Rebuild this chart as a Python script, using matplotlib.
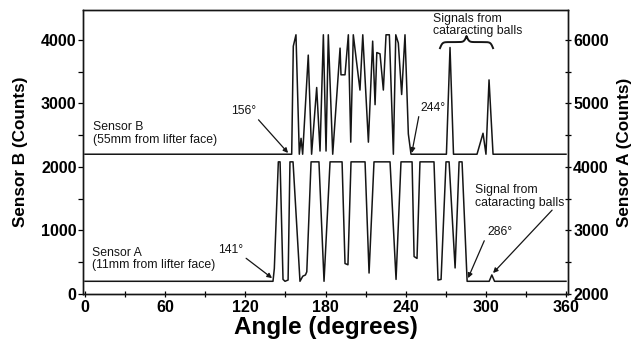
import numpy as np
import matplotlib
matplotlib.use('Agg')
import matplotlib.pyplot as plt
from matplotlib.ticker import MultipleLocator

plt.rcParams['font.family'] = ['Liberation Sans', 'DejaVu Sans']

# Sensor B (55mm from lifter face) - left axis
angle_b = [0, 154.7, 155.9, 157.9, 160.4, 161.7, 162.9, 167.1, 169.6, 173.4,
           175.9, 178.4, 180.4, 182.1, 185.4, 190.9, 191.6, 194.6, 197.1, 198.9,
           200.8, 205.8, 207.9, 212.1, 215.3, 217.1, 218.4, 220.8, 223.3, 225.3,
           227.8, 230.8, 232.6, 234.5, 237.0, 239.5, 242.0, 244.0, 270.5, 273.2,
           275.8, 293.4, 297.9, 300.1, 302.4, 305.4, 360]
sensor_b = [2200, 2200, 3900, 4080, 2200, 2450, 2200, 3760, 2200, 3250,
            2250, 4080, 2250, 4080, 2200, 3870, 3450, 3450, 4080, 2390,
            4080, 3210, 4080, 2390, 3980, 2980, 3800, 3780, 3210, 4080,
            4080, 2200, 4080, 3950, 3140, 4080, 2520, 2200, 2200, 3880,
            2200, 2200, 2530, 2200, 3370, 2200, 2200]

# Sensor A (11mm from lifter face) - right axis
angle_a = [0, 140.7, 141.7, 144.7, 146.0, 148.2, 149.7, 152.0, 153.4, 155.7,
           160.9, 163.0, 165.0, 166.0, 169.2, 175.1, 178.9, 183.4, 192.4, 194.6,
           196.8, 199.1, 209.6, 212.6, 216.3, 228.3, 232.8, 236.5, 244.8, 246.3,
           248.5, 250.7, 261.2, 264.2, 266.5, 270.2, 272.5, 277.0, 280.0, 282.2,
           286.0, 302.5, 304.5, 306.5, 360]
sensor_a = [2200, 2200, 2400, 4080, 4080, 2230, 2200, 2220, 4080, 4080,
            2200, 2280, 2300, 2350, 4080, 4080, 2200, 4080, 4080, 2480,
            2460, 4080, 4080, 2330, 4080, 4080, 2230, 4080, 4080, 2590,
            2560, 4080, 4080, 2220, 2230, 4080, 4080, 2410, 4080, 4080,
            2200, 2200, 2300, 2200, 2200]

LC = '#151515'
fig = plt.figure(figsize=(6.4, 3.43), dpi=100)
ax = fig.add_axes([83/640, 1-294/343, 485/640, 284/343])
ax2 = ax.twinx()

ax.plot(angle_b, sensor_b, color=LC, lw=1.1)
ax2.plot(angle_a, sensor_a, color=LC, lw=1.1)

ax.set_xlim(-1.5, 361.5)
ax.set_ylim(0, 4470)
ax2.set_ylim(2000, 6470)

ax.xaxis.set_major_locator(MultipleLocator(60))
ax.xaxis.set_minor_locator(MultipleLocator(30))
ax.yaxis.set_major_locator(MultipleLocator(1000))
ax.yaxis.set_minor_locator(MultipleLocator(500))
ax2.yaxis.set_major_locator(MultipleLocator(1000))
ax2.yaxis.set_minor_locator(MultipleLocator(500))

ax.tick_params(axis='y', which='both', direction='out', length=3.6, width=0.9, pad=1)
ax.tick_params(axis='x', which='both', direction='inout', length=4, width=0.9, pad=2)
ax2.tick_params(axis='y', which='both', direction='inout', length=4.5, width=0.9, pad=1.5)
for lab in ax.get_xticklabels() + ax.get_yticklabels() + ax2.get_yticklabels():
    lab.set_fontsize(11.5)
    lab.set_fontweight('bold')
for a in (ax, ax2):
    for s in a.spines.values():
        s.set_linewidth(1.0)
        s.set_color(LC)

ax.set_xlabel('Angle (degrees)', fontsize=17.5, fontweight='bold', labelpad=1)
ax.set_ylabel('Sensor B (Counts)', fontsize=12.3, fontweight='bold', labelpad=9)
ax2.set_ylabel('Sensor A (Counts)', fontsize=12.3, fontweight='bold', labelpad=6)

txt = dict(fontsize=8.8, color=LC)
arrow = dict(arrowstyle='-|>', lw=0.9, color=LC, shrinkA=0, shrinkB=0,
             mutation_scale=7)

ax.text(6, 2520, 'Sensor B\n(55mm from lifter face)', ha='left', va='center',
        linespacing=1.1, **txt)
ax.text(5.2, 551, 'Sensor A\n(11mm from lifter face)', ha='left', va='center',
        linespacing=1.1, **txt)

ax.annotate('156°', xy=(152, 2220), xytext=(128, 2880), ha='right', va='center',
            arrowprops=dict(arrow, relpos=(1, 0)), **txt)
ax.annotate('141°', xy=(140, 250), xytext=(118.5, 690), ha='right', va='center',
            arrowprops=dict(arrow, relpos=(1, 0)), **txt)
ax.annotate('244°', xy=(244.6, 2220), xytext=(250.7, 2930), ha='left', va='center',
            arrowprops=dict(arrow, relpos=(0, 0.3)), **txt)
ax.annotate('286°', xy=(286.7, 250), xytext=(300.9, 976), ha='left', va='center',
            arrowprops=dict(arrow, relpos=(0, 0.3)), **txt)
ax.text(291.9, 1530, 'Signal from\ncataracting balls', ha='left', va='center',
        linespacing=1.1, **txt)
ax.annotate('', xy=(305.4, 330), xytext=(349.6, 1320), arrowprops=arrow)
ax.text(260.5, 4237, 'Signals from\ncataracting balls', ha='left', va='center',
        linespacing=1.05, **txt)

# curly brace over the cataracting peaks
x0, x1, yb, h = 265.7, 305.4, 3870, 190
xs = np.linspace(x0, x1, 301)
half = xs[:151]
beta = 1.1
yh = 1 / (1 + np.exp(-beta * (half - half[0]))) + 1 / (1 + np.exp(-beta * (half - half[-1])))
ys = np.concatenate((yh, yh[-2::-1]))
ax.plot(xs, yb + (ys - 0.5) * h, color=LC, lw=1.4, clip_on=False)

fig.savefig('out.png', dpi=100)
